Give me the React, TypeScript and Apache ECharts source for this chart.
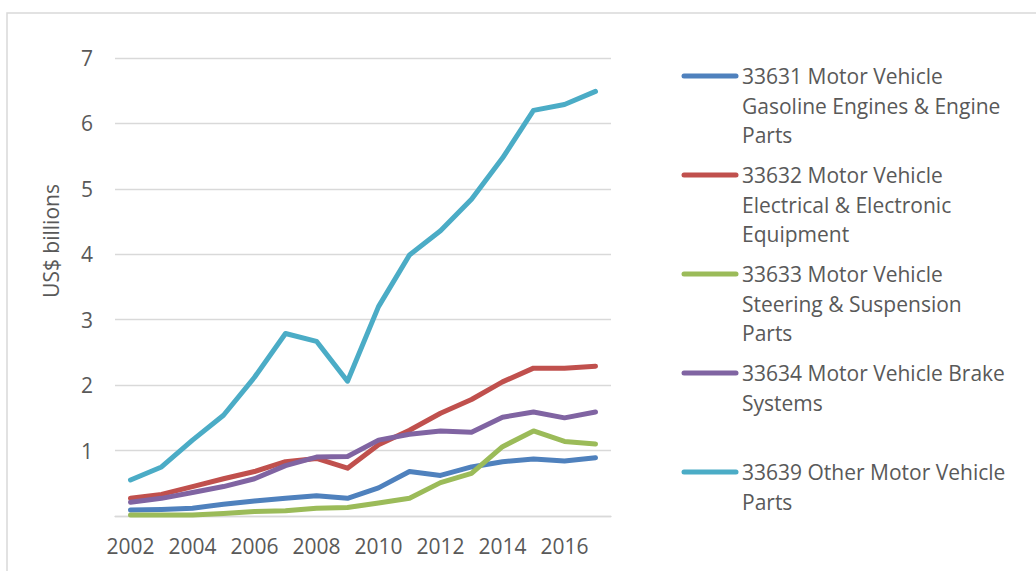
import React, { useEffect, useRef } from "react";
import * as echarts from "echarts";

const years = ["2002","2003","2004","2005","2006","2007","2008","2009","2010","2011","2012","2013","2014","2015","2016","2017"];

const s33631 = [0.09,0.10,0.12,0.18,0.23,0.27,0.31,0.27,0.43,0.68,0.62,0.75,0.83,0.87,0.84,0.89];
const s33632 = [0.27,0.33,0.45,0.57,0.68,0.83,0.88,0.73,1.09,1.31,1.57,1.78,2.05,2.26,2.26,2.29];
const s33633 = [0.015,0.015,0.015,0.04,0.07,0.08,0.12,0.13,0.20,0.27,0.51,0.65,1.06,1.30,1.14,1.10];
const s33634 = [0.21,0.27,0.36,0.45,0.57,0.77,0.90,0.91,1.16,1.25,1.30,1.28,1.51,1.59,1.50,1.59];
const s33639 = [0.55,0.75,1.16,1.54,2.12,2.79,2.67,2.06,3.20,3.99,4.36,4.84,5.47,6.20,6.29,6.49];

const seriesNames = [
  "33631 Motor Vehicle Gasoline Engines & Engine Parts",
  "33632 Motor Vehicle Electrical & Electronic Equipment",
  "33633 Motor Vehicle Steering & Suspension Parts",
  "33634 Motor Vehicle Brake Systems",
  "33639 Other Motor Vehicle Parts",
];
const legendLines = [
  ["33631 Motor Vehicle", "Gasoline Engines & Engine", "Parts"],
  ["33632 Motor Vehicle", "Electrical & Electronic", "Equipment"],
  ["33633 Motor Vehicle", "Steering & Suspension", "Parts"],
  ["33634 Motor Vehicle Brake", "Systems"],
  ["33639 Other Motor Vehicle", "Parts"],
];
const seriesData = [s33631, s33632, s33633, s33634, s33639];
const colors = ["#4F81BD", "#C0504D", "#9BBB59", "#8064A2", "#4BACC6"];
const yTicks = [0, 1, 2, 3, 4, 5, 6, 7];
const yAxisTitle = "US$ billions";

const FONT = "'Open Sans', 'Noto Sans', sans-serif";
const TEXT = "#595959";

export default function App() {
  const ref = useRef<HTMLDivElement>(null);
  useEffect(() => {
    if (!ref.current) return;
    const chart = echarts.init(ref.current, null, { renderer: "svg" });

    const legendGraphics: any[] = [];
    legendLines.forEach((lines, i) => {
      const y0 = 76 + 99 * i;
      legendGraphics.push({
        type: "line",
        shape: { x1: 684, y1: y0, x2: 736, y2: y0 },
        style: { stroke: colors[i], lineWidth: 5, lineCap: "round" },
      });
      lines.forEach((ln, j) => {
        legendGraphics.push({
          type: "text",
          x: 742,
          y: y0 + 29.5 * j,
          style: {
            text: ln,
            font: `21px ${FONT}`,
            fill: TEXT,
            textVerticalAlign: "middle",
            textAlign: "left",
          },
        });
      });
    });

    chart.setOption({
      animation: false,
      backgroundColor: "#ffffff",
      grid: { left: 115, right: 425, top: 58, bottom: 55, containLabel: false },
      xAxis: {
        type: "category",
        data: years,
        boundaryGap: true,
        axisTick: { show: false },
        axisLine: { show: true, lineStyle: { color: "#d9d9d9", width: 1.3 } },
        axisLabel: {
          interval: 1,
          color: TEXT,
          fontSize: 21,
          fontFamily: FONT,
          margin: 19,
        },
        splitLine: { show: false },
      },
      yAxis: {
        type: "value",
        min: yTicks[0],
        max: yTicks[yTicks.length - 1],
        interval: 1,
        axisLine: { show: false },
        axisTick: { show: false },
        axisLabel: {
          color: TEXT,
          fontSize: 21,
          fontFamily: FONT,
          margin: 22,
          formatter: (v: number) => (v === 0 ? "" : String(v)),
        },
        splitLine: { show: true, lineStyle: { color: "#d9d9d9", width: 1.3 } },
      },
      series: seriesData.map((d, i) => ({
        name: seriesNames[i],
        type: "line",
        data: d,
        symbol: "none",
        smooth: false,
        lineStyle: { color: colors[i], width: 5, cap: "round", join: "round" },
        itemStyle: { color: colors[i] },
        z: 2 + i,
      })),
      graphic: [
        {
          type: "rect",
          shape: { x: 7, y: 13, width: 1200, height: 700 },
          style: { fill: "none", stroke: "#d9d9d9", lineWidth: 1.5 },
          silent: true,
        },
        {
          type: "text",
          x: 51,
          y: 241,
          rotation: Math.PI / 2,
          style: {
            text: yAxisTitle,
            font: `21px ${FONT}`,
            fill: TEXT,
            textAlign: "center",
            textVerticalAlign: "middle",
          },
        },
        ...legendGraphics,
      ],
    });
    return () => chart.dispose();
  }, []);
  return (
    <div
      ref={ref}
      style={{ position: "absolute", left: 0, top: 0, width: 1036, height: 571 }}
    />
  );
}
